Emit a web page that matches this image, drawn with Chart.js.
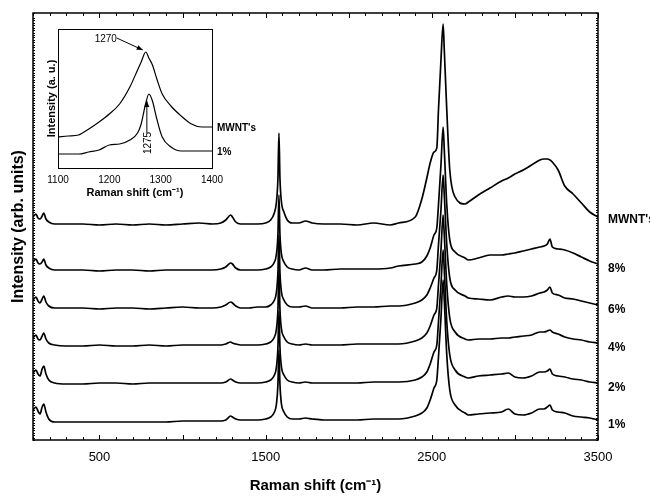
<!DOCTYPE html>
<html><head><meta charset="utf-8">
<script src="https://cdn.jsdelivr.net/npm/chart.js@4/dist/chart.umd.min.js"></script>
<style>
html,body{margin:0;padding:0;background:#fff;}
#wrap{position:relative;width:650px;height:496px;overflow:hidden;}
#main{position:absolute;left:0;top:0;}
#inset{position:absolute;left:30px;top:20px;}
</style></head><body>
<div id="wrap">
<canvas id="main" width="650" height="496"></canvas>
<canvas id="inset" width="270" height="190"></canvas>
</div>
<script>
// ---------- main spectra (Raman shift in cm-1, intensity in arb. units, stacked) ----------
const ramanShift = [100,110,118,130,142,155,165,178,195,230,
  300,400,500,600,700,800,900,1000,1100,1180,
  1230,1260,1290,1300,1320,1350,1400,1450,1500,1530,
  1550,1565,1574,1580,1586,1595,1610,1630,1660,1700,
  1740,1780,1850,1950,2050,2150,2250,2300,2400,2440,
  2470,2490,2513,2530,2540,2555,2568,2575,2590,2608,
  2640,2700,2720,2780,2850,2920,2960,3000,3050,3100,
  3150,3175,3195,3211,3225,3260,3300,3350,3400,3450,3500];
const mwnt = [223,225,226,222,221,224,227,221,218,216,
  216,216,215,216,215,216,215,216,217,216,
  217,220,225,223,218,216,216,216,217,220,
  226,238,262,307,262,238,228,220,217,217,
  219,217,216,216,215,217,215,217,223,241,
  262,277,288,292,330,380,416,390,330,270,
  243,236,238,245,252,259,262,266,270,275,
  280,281,281,280,278,270,254,246,237,228,223];
const pct8 = [178,180,181,177,176,178,181,175,172,170,
  170,170,169,170,170,169,170,170,170,170,
  171,173,177,176,172,170,170,170,171,173,
  177,186,206,245,206,186,178,173,171,170,
  172,170,170,171,171,171,172,174,176,178,
  184,192,205,212,235,275,313,290,235,200,
  188,182,180,182,185,185,186,187,189,191,
  193,194,196,201,193,191,190,187,183,179,176];
const pct6 = [140,142,143,139,137,141,144,138,134,132,
  132,132,131,132,132,131,132,133,132,132,
  133,135,138,137,134,132,132,133,133,135,
  139,148,168,205,168,148,140,135,133,133,
  134,132,132,132,133,133,134,134,137,140,
  145,152,162,170,195,230,265,245,195,162,
  150,144,142,141,140,143,144,143,143,144,
  147,148,150,153,147,145,142,141,139,137,135];
const pct4 = [102,104,105,101,100,104,107,101,97,95,
  94,94,95,94,94,95,94,95,95,95,
  95,96,98,97,96,95,95,95,96,98,
  102,111,131,170,131,111,103,98,96,95,
  96,95,95,95,96,96,96,96,99,102,
  107,114,125,132,155,190,225,205,155,122,
  108,101,100,101,101,102,102,103,104,105,
  108,108,109,110,108,106,103,101,100,98,97];
const pct2 = [67,69,70,66,64,71,74,66,60,57,
  56,56,57,57,56,57,57,57,57,57,
  57,58,61,60,58,57,57,57,58,60,
  64,73,93,129,93,73,65,60,58,57,
  58,57,57,57,57,58,58,58,60,63,
  68,76,88,95,118,155,190,170,118,85,
  70,63,62,64,65,66,67,63,62,64,
  68,68,69,71,66,64,63,61,60,58,57];
const pct1 = [30,32,33,29,26,33,36,28,21,18,
  18,18,18,18,18,18,18,19,19,19,
  19,20,24,23,21,20,20,20,21,23,
  27,36,56,90,56,36,28,23,21,21,
  22,21,20,20,20,21,21,21,24,27,
  32,40,52,60,83,122,160,140,85,50,
  35,27,25,26,27,28,31,26,25,27,
  31,31,33,35,30,28,27,24,23,22,20];
const seriesNames = ["MWNT's","8%","6%","4%","2%","1%"];
const xTickLabels = [500,1500,2500,3500];

// ---------- inset (D band) ----------
const insetShift = [1100,1120,1140,1160,1180,1200,1220,1240,1255,1262,1271,1277,1284,1292,1303,1320,1340,1360,1380,1400];
const insetMwnt = [31,32,33,39,46,54,64,81,98,106,116,110,103,90,74,62,52,44,41,41];
const insetPct1 = [14,14,14,16,18,23,24,28,35,44,65,74,67,50,31,21,17,17,17,17];
const insetNames = ["MWNT's","1%"];
const insetTickLabels = [1100,1200,1300,1400];
const peakLabels = ["1270","1275"];
const peakPositions = [1271,1277];

const FONT = "'Liberation Sans', Arial, Helvetica, sans-serif";

function pts(xs, ys){ return xs.map((v,i)=>({x:v,y:ys[i]})); }

const mainSeries = [mwnt,pct8,pct6,pct4,pct2,pct1];

const framePlugin = {
  id:'frame',
  afterDraw(chart){
    const {ctx, chartArea:a} = chart;
    const x = chart.scales.x, y = chart.scales.y;
    ctx.save();
    ctx.strokeStyle='#000';
    ctx.lineWidth=1.5;
    ctx.strokeRect(a.left, a.top, a.right-a.left, a.bottom-a.top);
    ctx.lineWidth=1;
    ctx.beginPath();
    x.ticks.forEach(t=>{
      const px = Math.round(x.getPixelForValue(t.value))+0.5;
      const len = (t.value%500===0) ? 5 : 3;
      ctx.moveTo(px,a.bottom); ctx.lineTo(px,a.bottom-len);
      ctx.moveTo(px,a.top); ctx.lineTo(px,a.top+len);
    });
    y.ticks.forEach(t=>{
      const py = Math.round(y.getPixelForValue(t.value))+0.5;
      ctx.moveTo(a.left,py); ctx.lineTo(a.left+2,py);
      ctx.moveTo(a.right,py); ctx.lineTo(a.right-2,py);
    });
    ctx.stroke();
    // series labels at right
    ctx.fillStyle='#000';
    ctx.font = "bold 12px "+FONT;
    ctx.textBaseline='middle';
    ctx.textAlign='left';
    chart.data.datasets.forEach((ds,i)=>{
      const last = ds.data[ds.data.length-1];
      const off = i===0 ? 3 : 5;
      ctx.fillText(ds.label, a.right+10, y.getPixelForValue(last.y)+off);
    });
    ctx.restore();
  }
};

new Chart(document.getElementById('main'), {
  type:'line',
  data:{datasets: seriesNames.map((n,i)=>({label:n, data:pts(ramanShift, mainSeries[i])}))},
  options:{
    responsive:false, animation:false, devicePixelRatio:1,
    layout:{padding:{left:5,top:13,right:52,bottom:0}},
    plugins:{legend:{display:false}, tooltip:{enabled:false}},
    elements:{point:{radius:0}, line:{borderWidth:1.7, borderColor:'#000', cubicInterpolationMode:'monotone', fill:false}},
    scales:{
      x:{type:'linear', min:100, max:3500,
        grid:{display:false, drawTicks:false}, border:{display:false},
        ticks:{stepSize:100, autoSkip:false, maxRotation:0, padding:10, color:'#000',
          font:{size:13, family:FONT},
          callback:v=> xTickLabels.includes(v) ? String(v) : ''},
        title:{display:true, text:'Raman shift (cm⁻¹)', color:'#000', font:{size:15, weight:'bold', family:FONT}, padding:{top:4,bottom:1}},
        afterFit(s){ s.height=56; }},
      y:{type:'linear', min:0, max:427,
        grid:{display:false, drawTicks:false}, border:{display:false},
        ticks:{display:false, stepSize:2.5, maxTicksLimit:300},
        title:{display:true, text:'Intensity (arb. units)', color:'#000', font:{size:16, weight:'bold', family:FONT}, padding:4},
        afterFit(s){ s.width=28; }}
    }
  },
  plugins:[framePlugin]
});

const insetPlugin = {
  id:'insetframe',
  afterDraw(chart){
    const {ctx, chartArea:a} = chart;
    const x = chart.scales.x, y = chart.scales.y;
    ctx.save();
    ctx.strokeStyle='#000'; ctx.lineWidth=1;
    ctx.strokeRect(a.left+0.5, a.top+0.5, a.right-a.left, a.bottom-a.top);
    ctx.fillStyle='#000';
    ctx.font="bold 10px "+FONT;
    ctx.textBaseline='middle'; ctx.textAlign='left';
    chart.data.datasets.forEach(ds=>{
      const last = ds.data[ds.data.length-1];
      ctx.fillText(ds.label, a.right+5, y.getPixelForValue(last.y)+1);
    });
    // peak annotations
    ctx.font="10px "+FONT;
    const d0 = chart.data.datasets[0].data, d1 = chart.data.datasets[1].data;
    const p0 = d0.find(p=>p.x===peakPositions[0]);
    const p1 = d1.find(p=>p.x===peakPositions[1]);
    const tx0 = x.getPixelForValue(p0.x)-1, ty0 = y.getPixelForValue(p0.y)-1;
    ctx.textAlign='center';
    ctx.fillText(peakLabels[0], tx0-39, ty0-12);
    arrow(ctx, tx0-28, ty0-13, tx0-2, ty0-1);
    const tx1 = x.getPixelForValue(p1.x)-1, ty1 = y.getPixelForValue(p1.y);
    ctx.save();
    ctx.translate(tx1+0.5, ty1+49);
    ctx.rotate(-Math.PI/2);
    ctx.fillText(peakLabels[1], 0, 0);
    ctx.restore();
    arrow(ctx, tx1-1, ty1+39, tx1-1, ty1+7);
    ctx.restore();
  }
};
function arrow(ctx,x1,y1,x2,y2){
  ctx.beginPath(); ctx.moveTo(x1,y1); ctx.lineTo(x2,y2); ctx.lineWidth=1; ctx.stroke();
  const ang=Math.atan2(y2-y1,x2-x1), L=6, W=2.5;
  ctx.beginPath();
  ctx.moveTo(x2,y2);
  ctx.lineTo(x2-L*Math.cos(ang)+W*Math.sin(ang), y2-L*Math.sin(ang)-W*Math.cos(ang));
  ctx.lineTo(x2-L*Math.cos(ang)-W*Math.sin(ang), y2-L*Math.sin(ang)+W*Math.cos(ang));
  ctx.closePath(); ctx.fill();
}

new Chart(document.getElementById('inset'), {
  type:'line',
  data:{datasets:[
    {label:insetNames[0], data:pts(insetShift, insetMwnt)},
    {label:insetNames[1], data:pts(insetShift, insetPct1)}
  ]},
  options:{
    responsive:false, animation:false, devicePixelRatio:1,
    layout:{padding:{left:14,top:9,right:88,bottom:8}},
    plugins:{legend:{display:false}, tooltip:{enabled:false}},
    elements:{point:{radius:0}, line:{borderWidth:1.2, borderColor:'#000', cubicInterpolationMode:'monotone', fill:false}},
    scales:{
      x:{type:'linear', min:1100, max:1400,
        grid:{display:false, drawTicks:false}, border:{display:false},
        ticks:{stepSize:100, autoSkip:false, maxRotation:0, padding:6, color:'#000', font:{size:10, family:FONT},
          callback:v=> insetTickLabels.includes(v) ? String(v) : ''},
        title:{display:true, text:'Raman shift (cm⁻¹)', color:'#000', font:{size:11, weight:'bold', family:FONT}, padding:2},
        afterFit(s){ s.height=34; }},
      y:{type:'linear', min:0, max:139,
        grid:{display:false, drawTicks:false}, border:{display:false},
        ticks:{display:false},
        title:{display:true, text:'Intensity (a. u.)', color:'#000', font:{size:11, weight:'bold', family:FONT}, padding:1},
        afterFit(s){ s.width=14; }}
    }
  },
  plugins:[insetPlugin]
});
</script>
</body></html>
